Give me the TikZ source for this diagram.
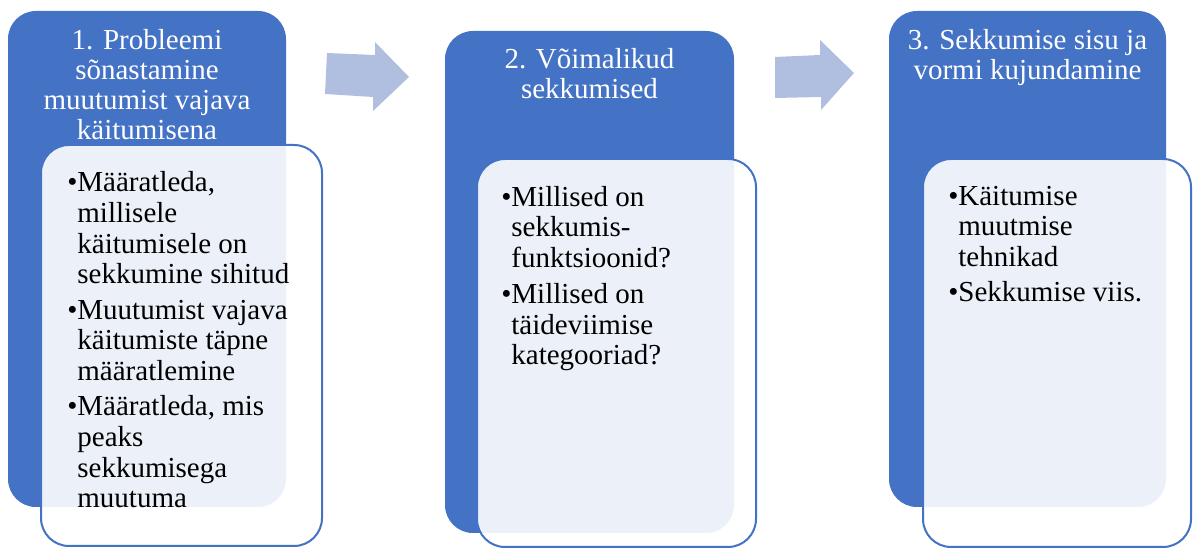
\documentclass[tikz,border=0pt]{standalone}
\usepackage{fontspec}
\setmainfont{Liberation Serif}
\usetikzlibrary{positioning}
\definecolor{stepblue}{HTML}{4472C4}
\definecolor{arrowblue}{HTML}{B0BEE0}
\newcommand{\bulitem}{\textbullet}
\newcommand{\bulcont}{\phantom{\textbullet}}

\begin{document}
\begin{tikzpicture}[x=0.75pt,y=-0.75pt,
	blueblock/.style={fill=stepblue,rounded corners=21pt},
	lightblock/.style={draw=stepblue,line width=1.5pt,fill=white,fill opacity=0.9,rounded corners=21pt},
	flowarrow/.style={fill=arrowblue},
	titletext/.style={text=white,align=center,inner sep=0pt,font=\fontsize{21.75}{22.5}\selectfont},
	itemtext/.style={text=black,align=left,inner sep=0pt,font=\fontsize{21.75}{23}\selectfont}]
	\useasboundingbox (0,0) rectangle (1193,548);
	% step 1 (text nodes sit on the baseline of their last line)
	\fill[blueblock] (8,11) rectangle (286,507);
	\filldraw[lightblock] (41,145) rectangle (322,546);
	\node[titletext,anchor=base] (steponetitle) at (147,140) {1. Probleemi\\sõnastamine\\muutumist vajava\\käitumisena};
	\node[itemtext,anchor=base west] (steponeitems) at (67,508) {\bulitem Määratleda,\\\bulcont millisele\\\bulcont käitumisele on\\\bulcont sekkumine sihitud\\[3.5pt]\bulitem Muutumist vajava\\\bulcont käitumiste täpne\\\bulcont määratlemine\\[3.5pt]\bulitem Määratleda, mis\\\bulcont peaks\\\bulcont sekkumisega\\\bulcont muutuma};
	% arrow 1 -> 2
	\fill[flowarrow] (327,53) -- (375,55) -- (375,42) -- (409,77) -- (373,111) -- (373,97) -- (325,94) -- cycle;
	% step 2
	\fill[blueblock] (445,31) rectangle (734,533);
	\filldraw[lightblock] (477,159) rectangle (756,547);
	\node[titletext,anchor=base] (steptwotitle) at (589.5,99) {2. Võimalikud\\sekkumised};
	\node[itemtext,anchor=base west] (steptwoitems) at (501,365) {\bulitem Millised on\\\bulcont sekkumis-\\\bulcont funktsioonid?\\[4pt]\bulitem Millised on\\\bulcont täideviimise\\\bulcont kategooriad?};
	% arrow 2 -> 3
	\fill[flowarrow] (775,57) -- (820,55) -- (820,40) -- (854,73) -- (821,110) -- (821,97) -- (775,98) -- cycle;
	% step 3
	\fill[blueblock] (889,11) rectangle (1166,507);
	\filldraw[lightblock] (923,159) rectangle (1191,547);
	\node[titletext,anchor=base] (stepthreetitle) at (1027.5,80) {3. Sekkumise sisu ja\\vormi kujundamine};
	\node[itemtext,anchor=base west] (stepthreeitems) at (948,302) {\bulitem Käitumise\\\bulcont muutmise\\\bulcont tehnikad\\[3.5pt]\bulitem Sekkumise viis.};
\end{tikzpicture}
\end{document}
